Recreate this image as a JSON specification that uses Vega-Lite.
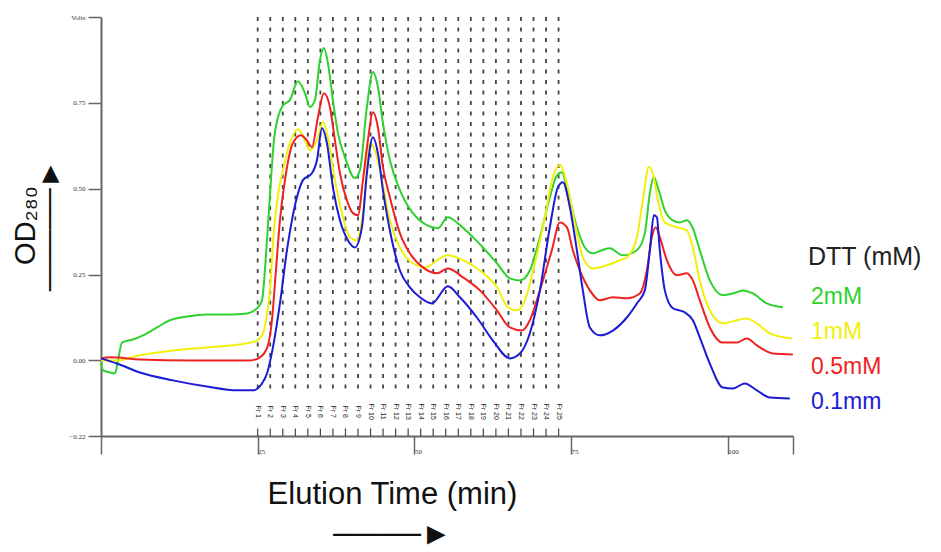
{
  "$schema": "https://vega.github.io/schema/vega-lite/v6.json",
  "autosize": {"type": "none"},
  "width": 692,
  "height": 419,
  "padding": {"left": 101, "top": 17, "right": 148, "bottom": 116},
  "background": "white",
  "config": {
    "view": {"stroke": null},
    "font": "Liberation Sans",
    "axis": {"grid": false, "domainColor": "#666", "domainWidth": 2, "tickColor": "#666", "tickWidth": 1.5, "labelFont": "Liberation Serif", "labelFontSize": 7, "labelColor": "#333", "titleFont": "Liberation Sans", "titleFontWeight": "normal", "titleColor": "#111"}
  },
  "datasets": {
    "curves": [
      {"t":0,"od":-0.006,"dtt":"2mM"},{"t":0.32,"od":-0.029,"dtt":"2mM"},{"t":1.44,"od":-0.035,"dtt":"2mM"},{"t":2.23,"od":-0.038,"dtt":"2mM"},{"t":2.71,"od":0,"dtt":"2mM"},{"t":3.35,"od":0.052,"dtt":"2mM"},{"t":5.1,"od":0.061,"dtt":"2mM"},{"t":6.7,"od":0.073,"dtt":"2mM"},{"t":8.93,"od":0.096,"dtt":"2mM"},{"t":11,"od":0.117,"dtt":"2mM"},{"t":13.72,"od":0.128,"dtt":"2mM"},{"t":16.91,"od":0.134,"dtt":"2mM"},{"t":20.57,"od":0.134,"dtt":"2mM"},{"t":23.29,"od":0.137,"dtt":"2mM"},{"t":24.88,"od":0.152,"dtt":"2mM"},{"t":25.68,"od":0.175,"dtt":"2mM"},{"t":26.32,"od":0.306,"dtt":"2mM"},{"t":26.95,"od":0.481,"dtt":"2mM"},{"t":27.59,"od":0.641,"dtt":"2mM"},{"t":28.23,"od":0.708,"dtt":"2mM"},{"t":29.03,"od":0.743,"dtt":"2mM"},{"t":30.14,"od":0.758,"dtt":"2mM"},{"t":31.42,"od":0.813,"dtt":"2mM"},{"t":32.54,"od":0.778,"dtt":"2mM"},{"t":33.33,"od":0.738,"dtt":"2mM"},{"t":34.13,"od":0.758,"dtt":"2mM"},{"t":34.93,"od":0.875,"dtt":"2mM"},{"t":35.57,"od":0.91,"dtt":"2mM"},{"t":36.2,"od":0.866,"dtt":"2mM"},{"t":37,"od":0.758,"dtt":"2mM"},{"t":37.8,"od":0.662,"dtt":"2mM"},{"t":38.92,"od":0.592,"dtt":"2mM"},{"t":40.51,"od":0.531,"dtt":"2mM"},{"t":41.31,"od":0.554,"dtt":"2mM"},{"t":42.42,"od":0.738,"dtt":"2mM"},{"t":43.38,"od":0.84,"dtt":"2mM"},{"t":44.18,"od":0.796,"dtt":"2mM"},{"t":44.98,"od":0.691,"dtt":"2mM"},{"t":46.09,"od":0.583,"dtt":"2mM"},{"t":47.69,"od":0.496,"dtt":"2mM"},{"t":49.76,"od":0.429,"dtt":"2mM"},{"t":51.99,"od":0.394,"dtt":"2mM"},{"t":53.75,"od":0.385,"dtt":"2mM"},{"t":55.34,"od":0.417,"dtt":"2mM"},{"t":57.26,"od":0.394,"dtt":"2mM"},{"t":59.33,"od":0.359,"dtt":"2mM"},{"t":60.93,"od":0.329,"dtt":"2mM"},{"t":63.16,"od":0.283,"dtt":"2mM"},{"t":65.23,"od":0.239,"dtt":"2mM"},{"t":66.83,"od":0.233,"dtt":"2mM"},{"t":68.42,"od":0.262,"dtt":"2mM"},{"t":70.02,"od":0.359,"dtt":"2mM"},{"t":71.61,"od":0.475,"dtt":"2mM"},{"t":72.73,"od":0.539,"dtt":"2mM"},{"t":73.52,"od":0.548,"dtt":"2mM"},{"t":74.32,"od":0.504,"dtt":"2mM"},{"t":75.92,"od":0.388,"dtt":"2mM"},{"t":77.19,"od":0.329,"dtt":"2mM"},{"t":78.47,"od":0.312,"dtt":"2mM"},{"t":79.9,"od":0.321,"dtt":"2mM"},{"t":81.18,"od":0.327,"dtt":"2mM"},{"t":83.25,"od":0.306,"dtt":"2mM"},{"t":85.49,"od":0.321,"dtt":"2mM"},{"t":86.76,"od":0.37,"dtt":"2mM"},{"t":87.56,"od":0.487,"dtt":"2mM"},{"t":88.2,"od":0.534,"dtt":"2mM"},{"t":88.84,"od":0.504,"dtt":"2mM"},{"t":89.95,"od":0.437,"dtt":"2mM"},{"t":91.23,"od":0.408,"dtt":"2mM"},{"t":92.34,"od":0.402,"dtt":"2mM"},{"t":93.46,"od":0.408,"dtt":"2mM"},{"t":94.42,"od":0.385,"dtt":"2mM"},{"t":95.53,"od":0.321,"dtt":"2mM"},{"t":97.13,"od":0.233,"dtt":"2mM"},{"t":99.2,"od":0.19,"dtt":"2mM"},{"t":100.8,"od":0.195,"dtt":"2mM"},{"t":102.39,"od":0.204,"dtt":"2mM"},{"t":103.99,"od":0.195,"dtt":"2mM"},{"t":106.22,"od":0.166,"dtt":"2mM"},{"t":108.77,"od":0.155,"dtt":"2mM"},
      {"t":0,"od":0,"dtt":"1mM"},{"t":2.55,"od":0,"dtt":"1mM"},{"t":6.22,"od":0.015,"dtt":"1mM"},{"t":11.48,"od":0.029,"dtt":"1mM"},{"t":16.91,"od":0.038,"dtt":"1mM"},{"t":23.29,"od":0.05,"dtt":"1mM"},{"t":24.88,"od":0.058,"dtt":"1mM"},{"t":25.84,"od":0.079,"dtt":"1mM"},{"t":26.32,"od":0.117,"dtt":"1mM"},{"t":26.95,"od":0.204,"dtt":"1mM"},{"t":27.59,"od":0.379,"dtt":"1mM"},{"t":28.23,"od":0.481,"dtt":"1mM"},{"t":29.03,"od":0.554,"dtt":"1mM"},{"t":30.14,"od":0.633,"dtt":"1mM"},{"t":31.42,"od":0.673,"dtt":"1mM"},{"t":32.54,"od":0.641,"dtt":"1mM"},{"t":33.33,"od":0.612,"dtt":"1mM"},{"t":34.45,"od":0.641,"dtt":"1mM"},{"t":35.41,"od":0.694,"dtt":"1mM"},{"t":36.2,"od":0.65,"dtt":"1mM"},{"t":37.32,"od":0.525,"dtt":"1mM"},{"t":38.44,"od":0.429,"dtt":"1mM"},{"t":39.71,"od":0.359,"dtt":"1mM"},{"t":40.83,"od":0.35,"dtt":"1mM"},{"t":41.79,"od":0.429,"dtt":"1mM"},{"t":42.9,"od":0.633,"dtt":"1mM"},{"t":43.7,"od":0.612,"dtt":"1mM"},{"t":44.82,"od":0.525,"dtt":"1mM"},{"t":46.09,"od":0.408,"dtt":"1mM"},{"t":47.69,"od":0.329,"dtt":"1mM"},{"t":49.76,"od":0.283,"dtt":"1mM"},{"t":51.99,"od":0.271,"dtt":"1mM"},{"t":52.95,"od":0.283,"dtt":"1mM"},{"t":55.34,"od":0.306,"dtt":"1mM"},{"t":57.74,"od":0.292,"dtt":"1mM"},{"t":60.45,"od":0.262,"dtt":"1mM"},{"t":63.16,"od":0.213,"dtt":"1mM"},{"t":64.91,"od":0.155,"dtt":"1mM"},{"t":66.35,"od":0.146,"dtt":"1mM"},{"t":67.62,"od":0.175,"dtt":"1mM"},{"t":69.22,"od":0.283,"dtt":"1mM"},{"t":70.81,"od":0.417,"dtt":"1mM"},{"t":72.09,"od":0.534,"dtt":"1mM"},{"t":73.21,"od":0.569,"dtt":"1mM"},{"t":74.32,"od":0.516,"dtt":"1mM"},{"t":75.6,"od":0.399,"dtt":"1mM"},{"t":76.87,"od":0.3,"dtt":"1mM"},{"t":78.47,"od":0.268,"dtt":"1mM"},{"t":80.7,"od":0.277,"dtt":"1mM"},{"t":82.78,"od":0.292,"dtt":"1mM"},{"t":83.89,"od":0.3,"dtt":"1mM"},{"t":85.49,"od":0.359,"dtt":"1mM"},{"t":86.44,"od":0.466,"dtt":"1mM"},{"t":87.4,"od":0.563,"dtt":"1mM"},{"t":88.04,"od":0.545,"dtt":"1mM"},{"t":88.84,"od":0.466,"dtt":"1mM"},{"t":89.95,"od":0.402,"dtt":"1mM"},{"t":91.87,"od":0.388,"dtt":"1mM"},{"t":93.46,"od":0.379,"dtt":"1mM"},{"t":94.42,"od":0.329,"dtt":"1mM"},{"t":95.53,"od":0.233,"dtt":"1mM"},{"t":97.13,"od":0.146,"dtt":"1mM"},{"t":99.2,"od":0.108,"dtt":"1mM"},{"t":101.44,"od":0.117,"dtt":"1mM"},{"t":103.03,"od":0.122,"dtt":"1mM"},{"t":104.63,"od":0.108,"dtt":"1mM"},{"t":106.7,"od":0.079,"dtt":"1mM"},{"t":110.21,"od":0.064,"dtt":"1mM"},
      {"t":0,"od":0.006,"dtt":"0.5mM"},{"t":1.44,"od":0.009,"dtt":"0.5mM"},{"t":6.22,"od":0.003,"dtt":"0.5mM"},{"t":14.19,"od":0,"dtt":"0.5mM"},{"t":23.76,"od":0,"dtt":"0.5mM"},{"t":25.36,"od":0.009,"dtt":"0.5mM"},{"t":26.64,"od":0.044,"dtt":"0.5mM"},{"t":27.27,"od":0.117,"dtt":"0.5mM"},{"t":27.91,"od":0.262,"dtt":"0.5mM"},{"t":28.55,"od":0.408,"dtt":"0.5mM"},{"t":29.35,"od":0.525,"dtt":"0.5mM"},{"t":30.62,"od":0.633,"dtt":"0.5mM"},{"t":31.9,"od":0.656,"dtt":"0.5mM"},{"t":32.85,"od":0.641,"dtt":"0.5mM"},{"t":33.65,"od":0.621,"dtt":"0.5mM"},{"t":34.61,"od":0.708,"dtt":"0.5mM"},{"t":35.57,"od":0.778,"dtt":"0.5mM"},{"t":36.52,"od":0.738,"dtt":"0.5mM"},{"t":37.32,"od":0.641,"dtt":"0.5mM"},{"t":38.12,"od":0.545,"dtt":"0.5mM"},{"t":39.23,"od":0.466,"dtt":"0.5mM"},{"t":40.19,"od":0.429,"dtt":"0.5mM"},{"t":40.99,"od":0.423,"dtt":"0.5mM"},{"t":41.79,"od":0.525,"dtt":"0.5mM"},{"t":42.58,"od":0.641,"dtt":"0.5mM"},{"t":43.38,"od":0.723,"dtt":"0.5mM"},{"t":44.18,"od":0.679,"dtt":"0.5mM"},{"t":44.98,"od":0.563,"dtt":"0.5mM"},{"t":46.09,"od":0.475,"dtt":"0.5mM"},{"t":47.69,"od":0.37,"dtt":"0.5mM"},{"t":49.28,"od":0.312,"dtt":"0.5mM"},{"t":51.36,"od":0.271,"dtt":"0.5mM"},{"t":53.59,"od":0.254,"dtt":"0.5mM"},{"t":55.34,"od":0.268,"dtt":"0.5mM"},{"t":57.74,"od":0.242,"dtt":"0.5mM"},{"t":60.45,"od":0.204,"dtt":"0.5mM"},{"t":63.16,"od":0.146,"dtt":"0.5mM"},{"t":65.23,"od":0.096,"dtt":"0.5mM"},{"t":67.15,"od":0.087,"dtt":"0.5mM"},{"t":68.42,"od":0.117,"dtt":"0.5mM"},{"t":70.02,"od":0.204,"dtt":"0.5mM"},{"t":71.93,"od":0.321,"dtt":"0.5mM"},{"t":73.21,"od":0.402,"dtt":"0.5mM"},{"t":74.32,"od":0.388,"dtt":"0.5mM"},{"t":75.28,"od":0.321,"dtt":"0.5mM"},{"t":76.4,"od":0.262,"dtt":"0.5mM"},{"t":77.99,"od":0.204,"dtt":"0.5mM"},{"t":79.59,"od":0.175,"dtt":"0.5mM"},{"t":81.66,"od":0.184,"dtt":"0.5mM"},{"t":83.89,"od":0.181,"dtt":"0.5mM"},{"t":85.96,"od":0.195,"dtt":"0.5mM"},{"t":87.08,"od":0.262,"dtt":"0.5mM"},{"t":87.88,"od":0.359,"dtt":"0.5mM"},{"t":88.52,"od":0.388,"dtt":"0.5mM"},{"t":89.15,"od":0.359,"dtt":"0.5mM"},{"t":90.27,"od":0.292,"dtt":"0.5mM"},{"t":91.87,"od":0.248,"dtt":"0.5mM"},{"t":93.46,"od":0.254,"dtt":"0.5mM"},{"t":94.42,"od":0.233,"dtt":"0.5mM"},{"t":95.53,"od":0.175,"dtt":"0.5mM"},{"t":97.13,"od":0.096,"dtt":"0.5mM"},{"t":99.2,"od":0.052,"dtt":"0.5mM"},{"t":101.44,"od":0.052,"dtt":"0.5mM"},{"t":103.03,"od":0.064,"dtt":"0.5mM"},{"t":104.63,"od":0.044,"dtt":"0.5mM"},{"t":107.18,"od":0.02,"dtt":"0.5mM"},{"t":110.37,"od":0.017,"dtt":"0.5mM"},
      {"t":0,"od":0.006,"dtt":"0.1mm"},{"t":2.55,"od":-0.009,"dtt":"0.1mm"},{"t":6.22,"od":-0.035,"dtt":"0.1mm"},{"t":11.48,"od":-0.058,"dtt":"0.1mm"},{"t":16.91,"od":-0.076,"dtt":"0.1mm"},{"t":21.69,"od":-0.087,"dtt":"0.1mm"},{"t":24.24,"od":-0.087,"dtt":"0.1mm"},{"t":25.68,"od":-0.067,"dtt":"0.1mm"},{"t":26.48,"od":-0.038,"dtt":"0.1mm"},{"t":27.43,"od":0.038,"dtt":"0.1mm"},{"t":28.55,"od":0.166,"dtt":"0.1mm"},{"t":29.67,"od":0.321,"dtt":"0.1mm"},{"t":30.46,"od":0.408,"dtt":"0.1mm"},{"t":31.26,"od":0.475,"dtt":"0.1mm"},{"t":32.22,"od":0.525,"dtt":"0.1mm"},{"t":33.65,"od":0.545,"dtt":"0.1mm"},{"t":34.45,"od":0.583,"dtt":"0.1mm"},{"t":35.25,"od":0.676,"dtt":"0.1mm"},{"t":36.04,"od":0.633,"dtt":"0.1mm"},{"t":37,"od":0.504,"dtt":"0.1mm"},{"t":38.12,"od":0.408,"dtt":"0.1mm"},{"t":39.39,"od":0.35,"dtt":"0.1mm"},{"t":40.51,"od":0.329,"dtt":"0.1mm"},{"t":41.63,"od":0.388,"dtt":"0.1mm"},{"t":42.42,"od":0.545,"dtt":"0.1mm"},{"t":43.38,"od":0.65,"dtt":"0.1mm"},{"t":44.18,"od":0.603,"dtt":"0.1mm"},{"t":44.98,"od":0.496,"dtt":"0.1mm"},{"t":46.41,"od":0.35,"dtt":"0.1mm"},{"t":47.69,"od":0.262,"dtt":"0.1mm"},{"t":49.28,"od":0.213,"dtt":"0.1mm"},{"t":50.88,"od":0.184,"dtt":"0.1mm"},{"t":52.79,"od":0.166,"dtt":"0.1mm"},{"t":55.34,"od":0.216,"dtt":"0.1mm"},{"t":57.26,"od":0.184,"dtt":"0.1mm"},{"t":59.97,"od":0.125,"dtt":"0.1mm"},{"t":62.52,"od":0.058,"dtt":"0.1mm"},{"t":65.23,"od":0.006,"dtt":"0.1mm"},{"t":66.83,"od":0.02,"dtt":"0.1mm"},{"t":68.42,"od":0.079,"dtt":"0.1mm"},{"t":70.02,"od":0.204,"dtt":"0.1mm"},{"t":71.61,"od":0.388,"dtt":"0.1mm"},{"t":72.89,"od":0.504,"dtt":"0.1mm"},{"t":73.68,"od":0.519,"dtt":"0.1mm"},{"t":74.8,"od":0.446,"dtt":"0.1mm"},{"t":75.92,"od":0.321,"dtt":"0.1mm"},{"t":76.87,"od":0.204,"dtt":"0.1mm"},{"t":77.99,"od":0.096,"dtt":"0.1mm"},{"t":79.59,"od":0.073,"dtt":"0.1mm"},{"t":81.66,"od":0.087,"dtt":"0.1mm"},{"t":83.89,"od":0.125,"dtt":"0.1mm"},{"t":85.49,"od":0.166,"dtt":"0.1mm"},{"t":86.76,"od":0.204,"dtt":"0.1mm"},{"t":87.56,"od":0.321,"dtt":"0.1mm"},{"t":88.2,"od":0.423,"dtt":"0.1mm"},{"t":88.68,"od":0.417,"dtt":"0.1mm"},{"t":89.15,"od":0.321,"dtt":"0.1mm"},{"t":89.95,"od":0.204,"dtt":"0.1mm"},{"t":91.23,"od":0.152,"dtt":"0.1mm"},{"t":93.14,"od":0.14,"dtt":"0.1mm"},{"t":94.42,"od":0.117,"dtt":"0.1mm"},{"t":95.53,"od":0.067,"dtt":"0.1mm"},{"t":97.13,"od":-0.009,"dtt":"0.1mm"},{"t":99.2,"od":-0.079,"dtt":"0.1mm"},{"t":100.8,"od":-0.082,"dtt":"0.1mm"},{"t":102.71,"od":-0.067,"dtt":"0.1mm"},{"t":104.63,"od":-0.087,"dtt":"0.1mm"},{"t":106.7,"od":-0.108,"dtt":"0.1mm"},{"t":109.89,"od":-0.111,"dtt":"0.1mm"}
    ],
    "fractions": [
      {"t":25,"lab":"Fr 1"},{"t":27,"lab":"Fr 2"},{"t":29,"lab":"Fr 3"},{"t":31,"lab":"Fr 4"},{"t":33,"lab":"Fr 5"},{"t":35,"lab":"Fr 6"},{"t":37,"lab":"Fr 7"},{"t":39,"lab":"Fr 8"},{"t":41,"lab":"Fr 9"},{"t":43,"lab":"Fr 10"},{"t":45,"lab":"Fr 11"},{"t":47,"lab":"Fr 12"},{"t":49,"lab":"Fr 13"},{"t":51,"lab":"Fr 14"},{"t":53,"lab":"Fr 15"},{"t":55,"lab":"Fr 16"},{"t":57,"lab":"Fr 17"},{"t":59,"lab":"Fr 18"},{"t":61,"lab":"Fr 19"},{"t":63,"lab":"Fr 20"},{"t":65,"lab":"Fr 21"},{"t":67,"lab":"Fr 22"},{"t":69,"lab":"Fr 23"},{"t":71,"lab":"Fr 24"},{"t":73,"lab":"Fr 25"}
    ]
  },
  "layer": [
    {
      "data": {"name": "fractions"},
      "mark": {"type": "rule", "color": "#444", "strokeWidth": 1.8, "strokeDash": [4, 6.5]},
      "encoding": {
        "x": {"field": "t", "type": "quantitative", "scale": {"domain": [0, 110.4], "nice": false, "zero": false},
          "axis": {"values": [0, 25, 50, 75, 100, 110.4], "tickSize": 18, "labelAlign": "left", "labelBaseline": "middle", "labelPadding": -3, "labelDx": 2, "labelExpr": "datum.value == 0 || datum.value > 105 ? '' : datum.label",
            "title": ["Elution Time (min)", "\u2500\u2500\u2500\u2500\u25BA"], "titleFontSize": 31, "titleX": 291, "titleY": 43, "titleBaseline": "top", "titleAlign": "center", "titleLineHeight": 40, "titleAnchor": null}},
        "y": {"datum": 1.0, "type": "quantitative", "scale": {"domain": [-0.22, 1.0], "nice": false, "zero": false},
          "axis": {"values": [-0.22, 0, 0.25, 0.5, 0.75, 1.0], "tickSize": 13, "labelPadding": 3, "labelExpr": "datum.value > 0.99 ? 'Volts' : format(datum.value, '.2f')",
            "title": ["OD\u2082\u2088\u2080", "\u2500\u2500\u2500\u2500\u2500\u25BA"], "titleFontSize": 29, "titleAngle": -90, "titleX": -90, "titleY": 208, "titleBaseline": "top", "titleAlign": "center", "titleLineHeight": 24}},
        "y2": {"datum": -0.1}
      }
    },
    {
      "data": {"name": "fractions"},
      "mark": {"type": "rule", "color": "#444", "strokeWidth": 1.2},
      "encoding": {
        "x": {"field": "t", "type": "quantitative"},
        "y": {"datum": -0.22, "type": "quantitative"},
        "y2": {"datum": -0.198}
      }
    },
    {
      "data": {"name": "fractions"},
      "mark": {"type": "text", "angle": 90, "fontSize": 7, "font": "Liberation Sans", "color": "#222", "align": "center", "baseline": "middle"},
      "encoding": {
        "x": {"field": "t", "type": "quantitative"},
        "y": {"datum": -0.149, "type": "quantitative"},
        "text": {"field": "lab"}
      }
    },
    {
      "data": {"name": "curves"},
      "mark": {"type": "line", "strokeWidth": 2, "interpolate": "monotone"},
      "encoding": {
        "x": {"field": "t", "type": "quantitative"},
        "y": {"field": "od", "type": "quantitative"},
        "color": {"field": "dtt", "type": "nominal",
          "scale": {"domain": ["2mM", "1mM", "0.5mM", "0.1mm"], "range": ["#2fd12f", "#f0f00c", "#ef2222", "#1b1bd4"]},
          "sort": ["2mM", "1mM", "0.5mM", "0.1mm"],
          "legend": {"orient": "none", "legendX": 707, "legendY": 228, "title": "DTT (mM)", "titleFontSize": 25, "titleFont": "Liberation Sans", "titleFontWeight": "normal", "titleColor": "#222", "titlePadding": 15, "labelFontSize": 23, "labelFont": "Liberation Sans", "symbolSize": 0, "symbolStrokeWidth": 0, "symbolOpacity": 0, "rowPadding": 11, "labelOffset": -20,
            "encode": {"labels": {"update": {"fill": {"scale": "color", "field": "value"}}}}}
        },
        "order": {"value": 0}
      }
    }
  ]
}
